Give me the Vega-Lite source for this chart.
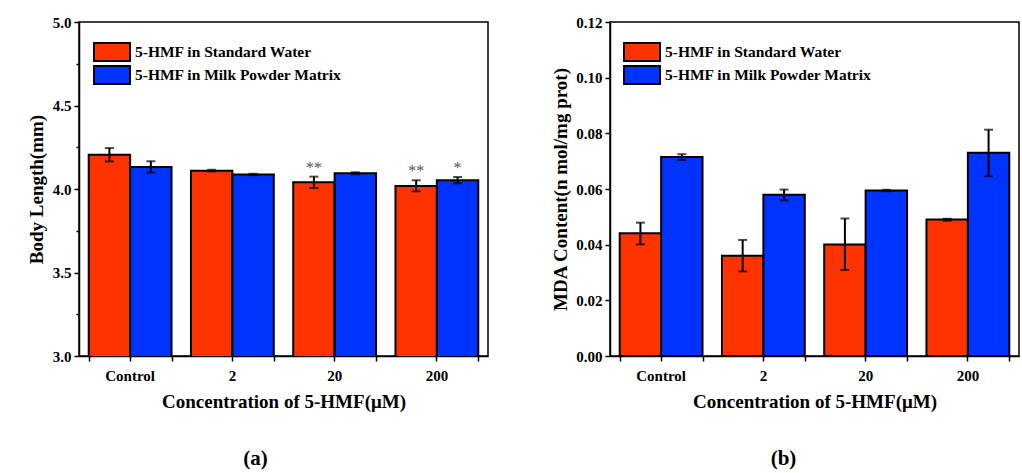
{
  "$schema": "https://vega.github.io/schema/vega-lite/v6.json",
  "padding": {"left": 26, "top": 14, "right": 0, "bottom": 0},
  "datasets": {
    "a": [
      {"conc": "Control", "group": "5-HMF in Standard Water", "value": 4.205, "lo": 4.165, "hi": 4.245, "sig": ""},
      {"conc": "Control", "group": "5-HMF in Milk Powder Matrix", "value": 4.131, "lo": 4.098, "hi": 4.166, "sig": ""},
      {"conc": "2", "group": "5-HMF in Standard Water", "value": 4.11, "lo": 4.105, "hi": 4.115, "sig": ""},
      {"conc": "2", "group": "5-HMF in Milk Powder Matrix", "value": 4.087, "lo": 4.083, "hi": 4.091, "sig": ""},
      {"conc": "20", "group": "5-HMF in Standard Water", "value": 4.04, "lo": 4.006, "hi": 4.074, "sig": "**"},
      {"conc": "20", "group": "5-HMF in Milk Powder Matrix", "value": 4.094, "lo": 4.088, "hi": 4.1, "sig": ""},
      {"conc": "200", "group": "5-HMF in Standard Water", "value": 4.018, "lo": 3.986, "hi": 4.052, "sig": "**"},
      {"conc": "200", "group": "5-HMF in Milk Powder Matrix", "value": 4.052, "lo": 4.034, "hi": 4.072, "sig": "*"}
    ],
    "b": [
      {"conc": "Control", "group": "5-HMF in Standard Water", "value": 0.0441, "lo": 0.0401, "hi": 0.0479},
      {"conc": "Control", "group": "5-HMF in Milk Powder Matrix", "value": 0.0715, "lo": 0.0704, "hi": 0.0725},
      {"conc": "2", "group": "5-HMF in Standard Water", "value": 0.036, "lo": 0.0304, "hi": 0.0417},
      {"conc": "2", "group": "5-HMF in Milk Powder Matrix", "value": 0.0579, "lo": 0.0559, "hi": 0.0598},
      {"conc": "20", "group": "5-HMF in Standard Water", "value": 0.0401, "lo": 0.0309, "hi": 0.0494},
      {"conc": "20", "group": "5-HMF in Milk Powder Matrix", "value": 0.0595, "lo": 0.0592, "hi": 0.0597},
      {"conc": "200", "group": "5-HMF in Standard Water", "value": 0.049, "lo": 0.0486, "hi": 0.0493},
      {"conc": "200", "group": "5-HMF in Milk Powder Matrix", "value": 0.073, "lo": 0.0646, "hi": 0.0813}
    ]
  },
  "config": {
    "font": "Liberation Serif",
    "view": {"stroke": "black", "strokeWidth": 1.5},
    "axis": {
      "grid": false,
      "domainColor": "black", "domainWidth": 1.5,
      "tickColor": "black", "tickWidth": 1.5, "tickSize": 5,
      "labelFont": "Liberation Serif", "labelFontWeight": "bold", "labelFontSize": 15, "labelColor": "black",
      "titleFont": "Liberation Serif", "titleFontWeight": "bold", "titleFontSize": 19, "titleColor": "black"
    },
    "legend": {
      "orient": "none",
      "title": null,
      "symbolType": "M-2,-1H2V1H-2Z",
      "symbolSize": 324,
      "symbolStrokeColor": "black",
      "symbolStrokeWidth": 2,
      "symbolOpacity": 1,
      "labelFont": "Liberation Serif", "labelFontWeight": "bold", "labelFontSize": 15.5, "labelColor": "black",
      "labelLimit": 400,
      "labelOffset": 13,
      "rowPadding": -14
    },
    "title": {"font": "Liberation Serif", "fontSize": 21, "fontWeight": "bold", "color": "black"}
  },
  "spacing": 62,
  "resolve": {"legend": {"color": "independent"}},
  "hconcat": [
    {
      "width": 409, "height": 334,
      "data": {"name": "a"},
      "title": {"text": "(a)", "orient": "bottom", "anchor": "middle", "frame": "group", "offset": 37, "dx": -28},
      "layer": [
        {
          "mark": {"type": "bar", "stroke": "black", "strokeWidth": 2, "clip": true},
          "encoding": {
            "x": {"field": "conc", "type": "nominal", "sort": ["Control", "2", "20", "200"],
                  "scale": {"paddingInner": 0.19, "paddingOuter": 0.095},
                  "axis": {"labelAngle": 0, "title": "Concentration of 5-HMF(μM)", "labelPadding": 7, "titlePadding": 9}},
            "xOffset": {"field": "group", "sort": ["5-HMF in Standard Water", "5-HMF in Milk Powder Matrix"]},
            "y": {"field": "value", "type": "quantitative",
                  "scale": {"domain": [3, 5], "zero": false, "nice": false},
                  "axis": {"title": "Body Length(mm)", "values": [3, 3.25, 3.5, 3.75, 4, 4.25, 4.5, 4.75, 5],
                           "format": ".1f",
                           "labelExpr": "round(datum.value*4) % 2 === 0 ? datum.label : ''",
                           "tickSize": {"condition": {"test": "round(datum.value*4) % 2 === 0", "value": 5}, "value": 3},
                           "labelPadding": 3, "titlePadding": 6}},
            "color": {"field": "group", "type": "nominal",
                      "scale": {"domain": ["5-HMF in Standard Water", "5-HMF in Milk Powder Matrix"], "range": ["#FF3300", "#0033FF"]},
                      "legend": {"legendX": 23, "legendY": 20, "labelFontSize": 15.5, "labelLimit": 400}}
          }
        },
        {
          "mark": {"type": "rule", "strokeWidth": 2, "color": "black"},
          "encoding": {
            "x": {"field": "conc", "type": "nominal", "sort": ["Control", "2", "20", "200"],
                  "axis": {"orient": "bottom", "tickBand": "extent", "labels": false, "domain": false, "title": null}},
            "xOffset": {"field": "group", "sort": ["5-HMF in Standard Water", "5-HMF in Milk Powder Matrix"]},
            "y": {"field": "lo", "type": "quantitative"},
            "y2": {"field": "hi"}
          }
        },
        {
          "mark": {"type": "tick", "orient": "horizontal", "size": 9, "thickness": 2, "color": "black"},
          "encoding": {
            "x": {"field": "conc", "type": "nominal", "sort": ["Control", "2", "20", "200"], "axis": null},
            "xOffset": {"field": "group", "sort": ["5-HMF in Standard Water", "5-HMF in Milk Powder Matrix"]},
            "y": {"field": "lo", "type": "quantitative"}
          }
        },
        {
          "mark": {"type": "tick", "orient": "horizontal", "size": 9, "thickness": 2, "color": "black"},
          "encoding": {
            "x": {"field": "conc", "type": "nominal", "sort": ["Control", "2", "20", "200"], "axis": null},
            "xOffset": {"field": "group", "sort": ["5-HMF in Standard Water", "5-HMF in Milk Powder Matrix"]},
            "y": {"field": "hi", "type": "quantitative"}
          }
        },
        {
          "mark": {"type": "text", "baseline": "bottom", "dy": -1, "fontSize": 16, "color": "#555555", "font": "Liberation Serif"},
          "encoding": {
            "x": {"field": "conc", "type": "nominal", "sort": ["Control", "2", "20", "200"], "axis": null},
            "xOffset": {"field": "group", "sort": ["5-HMF in Standard Water", "5-HMF in Milk Powder Matrix"]},
            "y": {"field": "hi", "type": "quantitative"},
            "text": {"field": "sig"}
          }
        }
      ],
      "resolve": {"axis": {"x": "independent"}}
    },
    {
      "width": 409, "height": 334,
      "data": {"name": "b"},
      "title": {"text": "(b)", "orient": "bottom", "anchor": "middle", "frame": "group", "offset": 37, "dx": -31},
      "layer": [
        {
          "mark": {"type": "bar", "stroke": "black", "strokeWidth": 2, "clip": true},
          "encoding": {
            "x": {"field": "conc", "type": "nominal", "sort": ["Control", "2", "20", "200"],
                  "scale": {"paddingInner": 0.19, "paddingOuter": 0.095},
                  "axis": {"labelAngle": 0, "title": "Concentration of 5-HMF(μM)", "labelPadding": 7, "titlePadding": 9}},
            "xOffset": {"field": "group", "sort": ["5-HMF in Standard Water", "5-HMF in Milk Powder Matrix"]},
            "y": {"field": "value", "type": "quantitative",
                  "scale": {"domain": [0, 0.12], "nice": false},
                  "axis": {"title": "MDA Content(n mol/mg prot)",
                           "values": [0, 0.01, 0.02, 0.03, 0.04, 0.05, 0.06, 0.07, 0.08, 0.09, 0.1, 0.11, 0.12],
                           "format": ".2f",
                           "labelExpr": "round(datum.value*100) % 2 === 0 ? datum.label : ''",
                           "tickSize": {"condition": {"test": "round(datum.value*100) % 2 === 0", "value": 5}, "value": 3},
                           "labelPadding": 3, "titlePadding": 5}},
            "color": {"field": "group", "type": "nominal",
                      "scale": {"domain": ["5-HMF in Standard Water", "5-HMF in Milk Powder Matrix"], "range": ["#FF3300", "#0033FF"]},
                      "legend": {"legendX": 22, "legendY": 20, "labelFontSize": 15.5, "labelLimit": 400}}
          }
        },
        {
          "mark": {"type": "rule", "strokeWidth": 2, "color": "black"},
          "encoding": {
            "x": {"field": "conc", "type": "nominal", "sort": ["Control", "2", "20", "200"],
                  "axis": {"orient": "bottom", "tickBand": "extent", "labels": false, "domain": false, "title": null}},
            "xOffset": {"field": "group", "sort": ["5-HMF in Standard Water", "5-HMF in Milk Powder Matrix"]},
            "y": {"field": "lo", "type": "quantitative"},
            "y2": {"field": "hi"}
          }
        },
        {
          "mark": {"type": "tick", "orient": "horizontal", "size": 9, "thickness": 2, "color": "black"},
          "encoding": {
            "x": {"field": "conc", "type": "nominal", "sort": ["Control", "2", "20", "200"], "axis": null},
            "xOffset": {"field": "group", "sort": ["5-HMF in Standard Water", "5-HMF in Milk Powder Matrix"]},
            "y": {"field": "lo", "type": "quantitative"}
          }
        },
        {
          "mark": {"type": "tick", "orient": "horizontal", "size": 9, "thickness": 2, "color": "black"},
          "encoding": {
            "x": {"field": "conc", "type": "nominal", "sort": ["Control", "2", "20", "200"], "axis": null},
            "xOffset": {"field": "group", "sort": ["5-HMF in Standard Water", "5-HMF in Milk Powder Matrix"]},
            "y": {"field": "hi", "type": "quantitative"}
          }
        }
      ],
      "resolve": {"axis": {"x": "independent"}}
    }
  ]
}
